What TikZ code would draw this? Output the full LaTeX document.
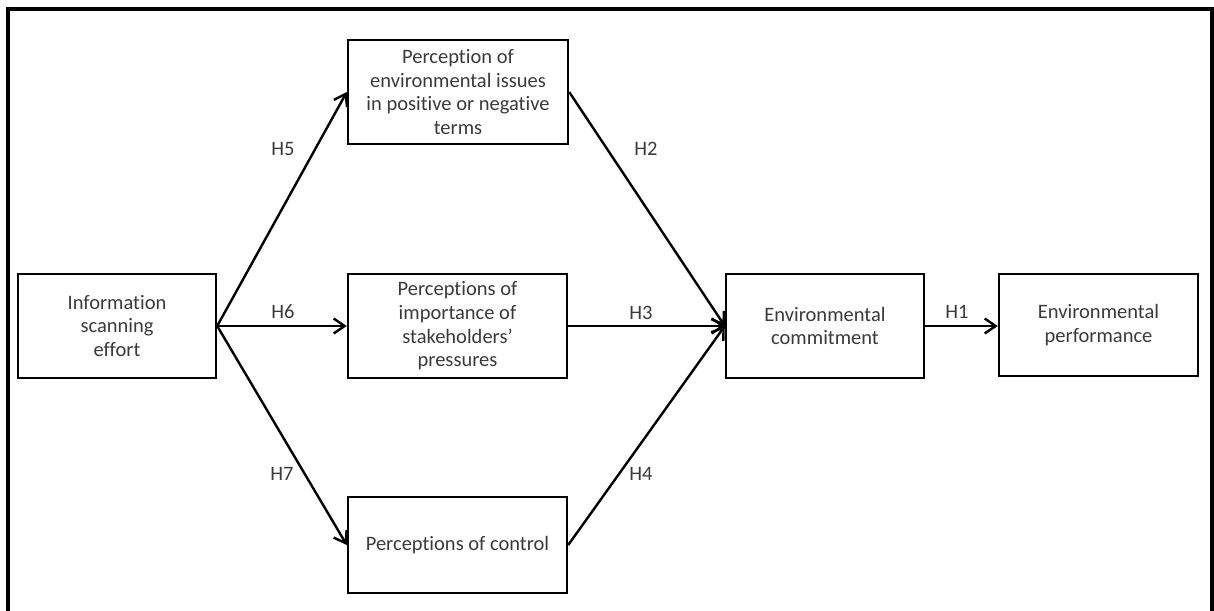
\documentclass[tikz,border=0pt]{standalone}
\usepackage{fontspec}
\setmainfont{Carlito}[Ligatures={NoCommon}]
\usetikzlibrary{arrows.meta}
\definecolor{txt}{HTML}{3A3A3A}
\begin{document}
\begin{tikzpicture}[x=1pt,y=-1pt,
  box/.style={draw=black,line width=2.4pt,minimum width=#1,align=center,
    text=txt,font=\fontsize{20.5}{23.7}\selectfont,inner sep=0pt},
  box/.default=198pt,
  hyp/.style={text=txt,font=\fontsize{20.5}{23.7}\selectfont,inner sep=0pt},
  link/.style={line width=2.4pt,-{Straight Barb[length=11pt,width=15pt,line width=2.4pt]}}]
\useasboundingbox (0,0) rectangle (1214,610);
\clip (0,0) rectangle (1214,610);
% outer frame (its lower edge runs past the page)
\draw[line width=4pt] (8,9) rectangle (1212,640);

% boxes
\node[box=198pt,minimum height=104pt] (info) at (117,326) {Information\\scanning\\effort};
\node[box=220pt,minimum height=104pt] (pos) at (458,92) {Perception of\\environmental issues\\in positive or negative\\terms};
\node[box=219pt,minimum height=104pt] (imp) at (457.5,326) {Perceptions of\\importance of\\stakeholders'\\pressures};
\node[box=219pt,minimum height=96pt] (ctl) at (457.5,545) {Perceptions of control};
\node[box=198pt,minimum height=104pt] (com) at (825,326) {Environmental\\commitment};
\node[box=199pt,minimum height=102pt] (perf) at (1098.5,325) {Environmental\\performance};

% paths
\draw[link] (info.east) -- (pos.west);
\draw[link] (info.east) -- (imp.west);
\draw[link] (info.east) -- (ctl.west);
\draw[link] (pos.east) -- (com.west);
\draw[link] (imp.east) -- (com.west);
\draw[link] (ctl.east) -- (com.west);
\draw[link] (com.east) -- (com.east -| perf.west);

% hypothesis labels
\node[hyp] (h5) at (283,149) {H5};
\node[hyp] (h6) at (283,312) {H6};
\node[hyp] (h7) at (282,474) {H7};
\node[hyp] (h2) at (646,149) {H2};
\node[hyp] (h3) at (641,313) {H3};
\node[hyp] (h4) at (641,474) {H4};
\node[hyp] (h1) at (957,312) {H1};
\end{tikzpicture}
\end{document}
